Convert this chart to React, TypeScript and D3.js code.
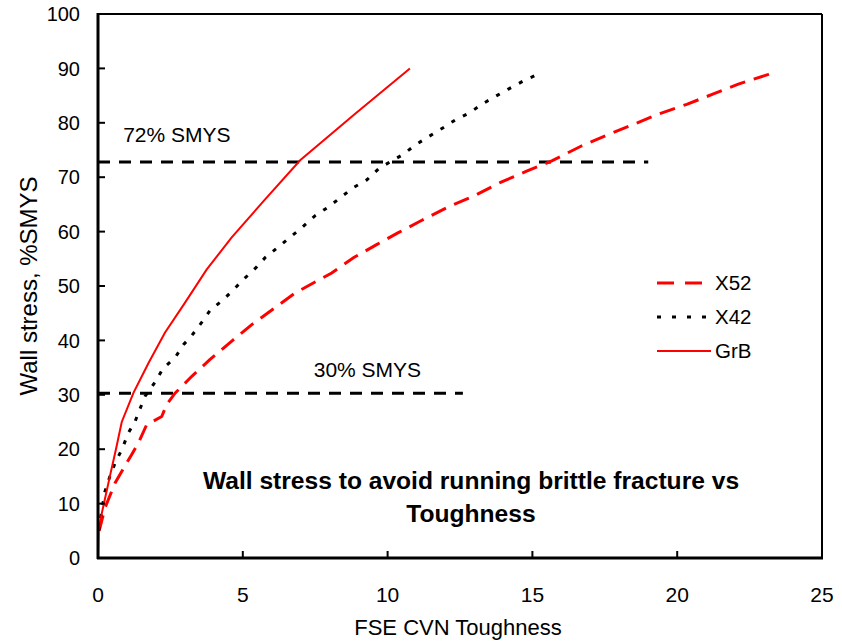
import React from "react";
import * as d3 from "d3";

const xTicks = [0, 5, 10, 15, 20, 25];
const yTicks = [0, 10, 20, 30, 40, 50, 60, 70, 80, 90, 100];

const x52: [number, number][] = [
  [0.04, 5], [0.24, 9.2], [0.59, 13.8], [1.16, 19], [1.39, 21.1], [1.68, 24.5], [2.2, 26],
  [2.37, 28.2], [2.66, 30.3], [3.24, 33.4], [3.87, 36.5], [4.67, 40.1], [5.31, 42.9],
  [6.11, 46], [6.8, 48.7], [8.07, 52.4], [8.82, 55.2], [9.62, 57.6], [10.37, 59.8],
  [11.12, 61.9], [12.15, 64.7], [12.96, 66.5], [13.88, 69], [14.8, 71.1], [15.67, 73],
  [16.64, 75.6], [17.56, 77.7], [18.49, 79.7], [19.35, 81.6], [20.33, 83.4], [21.25, 85.3],
  [22.11, 87.1], [23.15, 88.9], [23.38, 89.4],
];

const x42: [number, number][] = [
  [0.02, 5], [0.15, 9.4], [0.24, 12.2], [0.41, 15], [0.61, 17.7], [0.82, 19.9], [1.05, 23],
  [1.28, 25.1], [1.62, 29.7], [1.97, 32.3], [2.25, 34.9], [2.66, 36.8], [2.95, 39.2],
  [3.24, 40.9], [3.58, 43.3], [3.87, 45.5], [4.33, 47.5], [4.62, 49], [5.08, 51.5],
  [5.48, 53.5], [5.77, 55.2], [6.23, 57.2], [7.03, 60.7], [7.49, 62.9], [7.95, 64.5],
  [8.36, 66.2], [8.82, 68.1], [9.28, 69.5], [9.68, 71.5], [10.08, 72.8], [10.54, 74.2],
  [10.95, 75.9], [11.46, 77.6], [11.92, 79.1], [12.33, 80.5], [12.85, 81.9], [13.25, 83.4],
  [13.77, 85], [14.17, 86.2], [14.69, 87.7], [15.26, 89.1],
];

const grb: [number, number][] = [
  [0, 0], [0.02, 5], [0.13, 8.2], [0.41, 15], [0.62, 20], [0.82, 25], [1.22, 30.3],
  [1.74, 35.8], [2.31, 41.4], [3.0, 46.9], [3.75, 53], [4.61, 58.9], [5.7, 65.5],
  [6.98, 73.1], [8.87, 81.6], [10.77, 90],
];

const refLines = [
  { label: "72% SMYS", y: 72.8, x0: 0, x1: 19.0, tx: 0.87, ty: 76.5 },
  { label: "30% SMYS", y: 30.3, x0: 0, x1: 12.6, tx: 7.45, ty: 33.3 },
];

const legendItems = ["X52", "X42", "GrB"];
const titleLines = ["Wall stress to avoid running brittle fracture vs", "Toughness"];
const xTitle = "FSE CVN Toughness";
const yTitle = "Wall stress, %SMYS";

const FONT = "Arial, 'Liberation Sans', sans-serif";

export default function App() {
  const x = d3.scaleLinear().domain([0, 25]).range([98, 822]);
  const y = d3.scaleLinear().domain([0, 100]).range([558, 14]);
  const line = d3
    .line<[number, number]>()
    .x((d) => x(d[0]))
    .y((d) => y(d[1]));

  const styles = [
    { stroke: "#ff0000", dash: "16,9", width: 3 },
    { stroke: "#000000", dash: "4,9", width: 3 },
    { stroke: "#ff0000", dash: "none", width: 2 },
  ];
  const series = [x52, x42, grb];

  return (
    <svg
      width={842}
      height={642}
      style={{ position: "absolute", left: 0, top: 0, background: "#fff" }}
      fontFamily={FONT}
    >
      <rect x={0} y={0} width={842} height={642} fill="#fff" />
      {/* reference lines */}
      {refLines.map((r) => (
        <g key={r.label}>
          <line
            x1={x(r.x0)}
            x2={x(r.x1)}
            y1={y(r.y)}
            y2={y(r.y)}
            stroke="#000"
            strokeWidth={3}
            strokeDasharray="12,9"
          />
          <text x={x(r.tx)} y={y(r.ty)} fontSize={21} fill="#000">
            {r.label}
          </text>
        </g>
      ))}
      {/* series */}
      {series.map((s, i) => (
        <path
          key={i}
          d={line(s) || ""}
          fill="none"
          stroke={styles[i].stroke}
          strokeWidth={styles[i].width}
          strokeDasharray={styles[i].dash}
        />
      ))}
      {/* frame */}
      <line x1={98} x2={822} y1={14} y2={14} stroke="#000" strokeWidth={2} />
      <line x1={822} x2={822} y1={14} y2={558} stroke="#000" strokeWidth={2} />
      <line x1={98} x2={98} y1={13} y2={559} stroke="#000" strokeWidth={3} />
      <line x1={97} x2={823} y1={558} y2={558} stroke="#000" strokeWidth={3} />
      {/* y ticks */}
      {yTicks.map((t) => (
        <g key={"y" + t}>
          <line x1={98} x2={105} y1={y(t)} y2={y(t)} stroke="#000" strokeWidth={2} />
          <text x={80} y={y(t)} dy="0.36em" textAnchor="end" fontSize={20} fill="#000">
            {t}
          </text>
        </g>
      ))}
      {/* x ticks */}
      {xTicks.map((t) => (
        <g key={"x" + t}>
          <line x1={x(t)} x2={x(t)} y1={558} y2={551} stroke="#000" strokeWidth={2} />
          <text x={x(t)} y={602} textAnchor="middle" fontSize={21} fill="#000">
            {t}
          </text>
        </g>
      ))}
      {/* axis titles */}
      <text x={458} y={635} textAnchor="middle" fontSize={22} fill="#000">
        {xTitle}
      </text>
      <text
        transform={`translate(37,${(14 + 558) / 2}) rotate(-90)`}
        textAnchor="middle"
        fontSize={24}
        fill="#000"
      >
        {yTitle}
      </text>
      {/* chart title */}
      {titleLines.map((l, i) => (
        <text
          key={l}
          x={471}
          y={489 + i * 33}
          textAnchor="middle"
          fontSize={24.6}
          fontWeight="bold"
          fill="#000"
        >
          {l}
        </text>
      ))}
      {/* legend */}
      {legendItems.map((name, i) => {
        const ly = 283 + i * 34;
        return (
          <g key={name}>
            <line
              x1={657}
              x2={i === 2 ? 711 : i === 1 ? 708 : 702}
              y1={ly}
              y2={ly}
              stroke={styles[i].stroke}
              strokeWidth={styles[i].width}
              strokeDasharray={i === 0 ? "17,11" : i === 1 ? "4,11" : "none"}
            />
            <text x={715} y={ly} dy="0.36em" fontSize={20.5} fill="#000">
              {name}
            </text>
          </g>
        );
      })}
    </svg>
  );
}
